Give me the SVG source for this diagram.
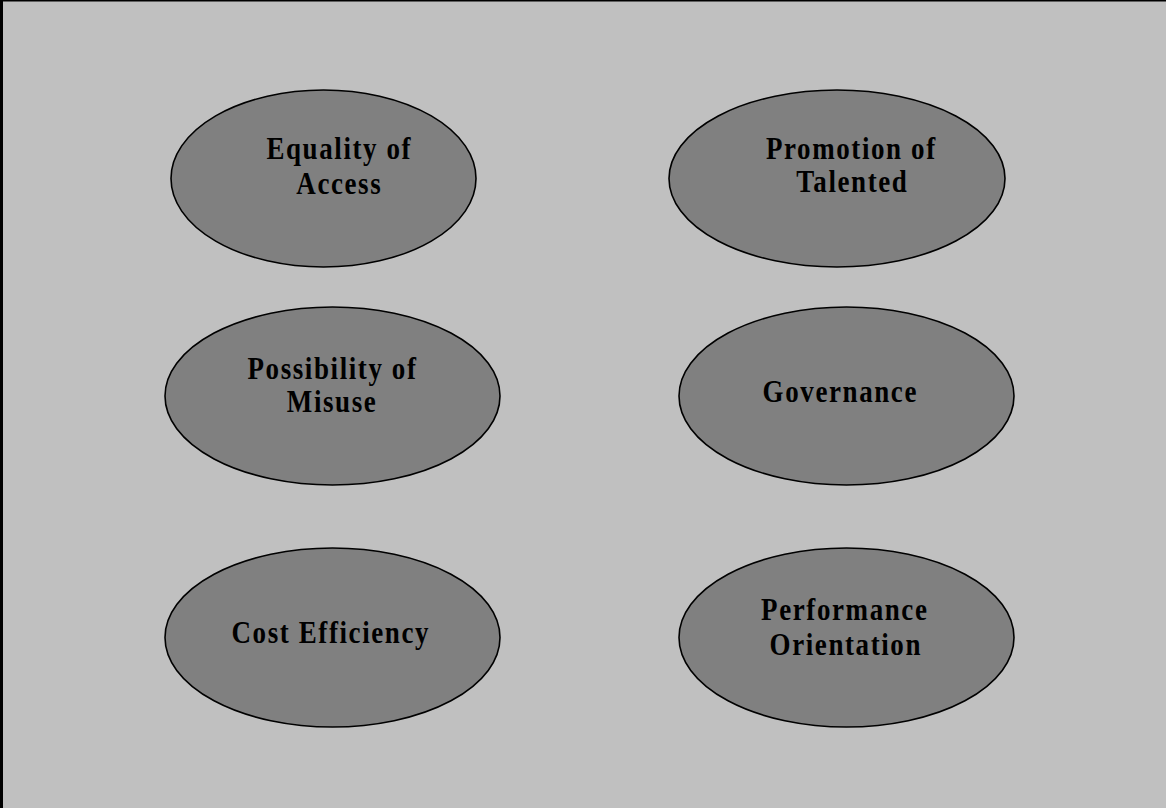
<svg xmlns="http://www.w3.org/2000/svg" width="1166" height="808" viewBox="0 0 1166 808">
  <style>
    .bg { fill: #c0c0c0; }
    .frame { stroke: #000; fill: none; }
    .node ellipse { fill: #808080; stroke: #000; stroke-width: 1.6; }
    .node text { font-family: "Liberation Serif", "Times New Roman", serif; font-weight: bold; font-size: 27px; letter-spacing: 1.6px; fill: #000; text-anchor: middle; }
  </style>
  <rect class="bg" x="0" y="0" width="1166" height="808"/>
  <!-- page frame: left and top rules -->
  <line class="frame" x1="1.5" y1="0" x2="1.5" y2="808" stroke-width="3"/>
  <line class="frame" x1="0" y1="0.75" x2="1166" y2="0.75" stroke-width="1.5"/>

  <g id="connectors"></g>

  <g id="equality-of-access" class="node">
    <ellipse cx="323.5" cy="178.5" rx="152.5" ry="88.5"/>
    <text transform="translate(339.3,159) scale(1,1.15)">Equality of</text>
    <text transform="translate(339.3,194) scale(1,1.15)">Access</text>
  </g>
  <g id="promotion-of-talented" class="node">
    <ellipse cx="837" cy="178.5" rx="168" ry="88.5"/>
    <text transform="translate(851.3,159) scale(1,1.15)">Promotion of</text>
    <text transform="translate(852.3,192) scale(1,1.15)">Talented</text>
  </g>
  <g id="possibility-of-misuse" class="node">
    <ellipse cx="332.5" cy="396" rx="167.5" ry="89"/>
    <text transform="translate(332.5,379) scale(1,1.15)">Possibility of</text>
    <text transform="translate(332.1,412) scale(1,1.15)">Misuse</text>
  </g>
  <g id="governance" class="node">
    <ellipse cx="846.5" cy="396" rx="167.5" ry="89"/>
    <text transform="translate(840.3,402) scale(1,1.15)">Governance</text>
  </g>
  <g id="cost-efficiency" class="node">
    <ellipse cx="332.5" cy="637.5" rx="167.5" ry="89.5"/>
    <text transform="translate(330.8,643) scale(1,1.15)">Cost Efficiency</text>
  </g>
  <g id="performance-orientation" class="node">
    <ellipse cx="846.5" cy="637.5" rx="167.5" ry="89.5"/>
    <text transform="translate(844.8,620) scale(1,1.15)">Performance</text>
    <text transform="translate(845.8,655) scale(1,1.15)">Orientation</text>
  </g>
</svg>
